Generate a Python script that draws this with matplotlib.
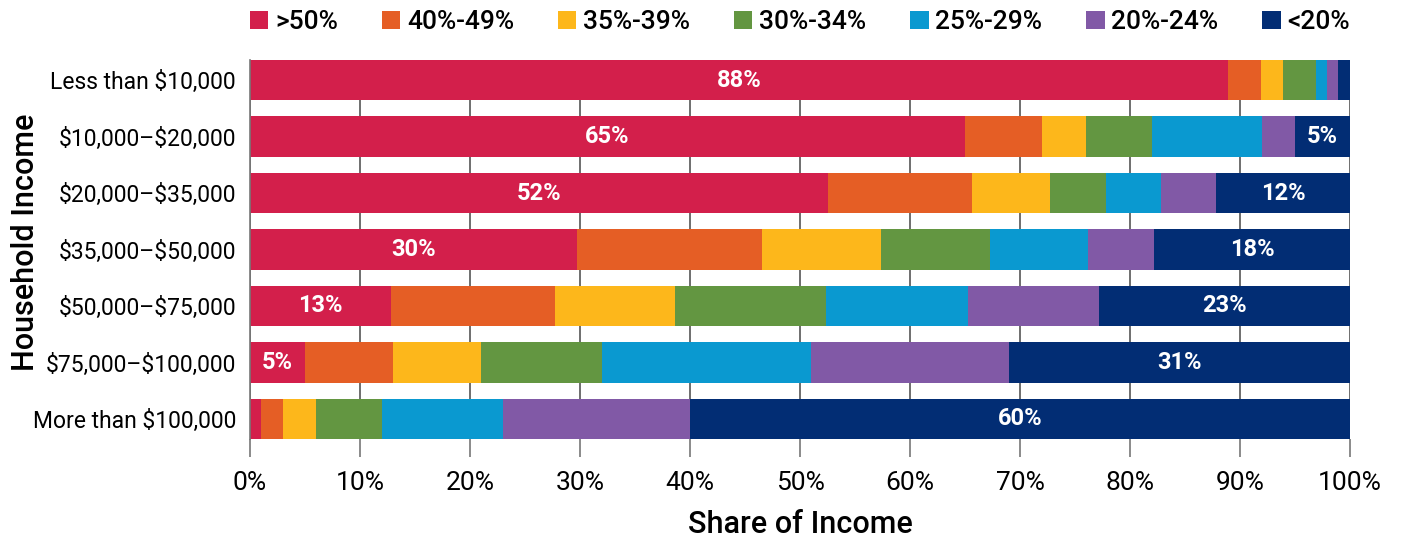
import matplotlib.pyplot as plt
import numpy as np

# household income brackets, top to bottom
incomes = [
    "Less than $10,000",
    "$10,000\u2013$20,000",
    "$20,000\u2013$35,000",
    "$35,000\u2013$50,000",
    "$50,000\u2013$75,000",
    "$75,000\u2013$100,000",
    "More than $100,000",
]

# share of income spent (legend categories)
groups = [">50%", "40%-49%", "35%-39%", "30%-34%", "25%-29%", "20%-24%", "<20%"]
colors = ["#D31F4B", "#E55E25", "#FDB71B", "#639641", "#0A99D0", "#8159A6", "#022D74"]

over50 = [88.9, 65.0, 52.5, 29.7, 12.8, 5.0, 1.0]
p40_49 = [3.0, 7.0, 13.1, 16.8, 14.9, 8.0, 2.0]
p35_39 = [2.0, 4.0, 7.1, 10.9, 10.9, 8.0, 3.0]
p30_34 = [3.0, 6.0, 5.1, 9.9, 13.8, 11.0, 6.0]
p25_29 = [1.0, 10.0, 5.0, 8.9, 12.9, 19.0, 11.0]
p20_24 = [1.0, 3.0, 5.0, 6.0, 11.9, 18.0, 17.0]
under20 = [1.1, 5.0, 12.2, 17.8, 22.8, 31.0, 60.0]

# labels printed on the first and last segment
over50_labels = ["88%", "65%", "52%", "30%", "13%", "5%", ""]
under20_labels = ["", "5%", "12%", "18%", "23%", "31%", "60%"]

plt.rcParams["font.family"] = ["Roboto", "DejaVu Sans"]
plt.rcParams["text.parse_math"] = False

series = [over50, p40_49, p35_39, p30_34, p25_29, p20_24, under20]

fig = plt.figure(figsize=(14.05, 5.42), dpi=100)
ax = fig.add_axes([250 / 1405, 1 - 439 / 542, 1100 / 1405, 379 / 542])

y = np.arange(len(incomes))
left = np.zeros(len(incomes))
containers = []
for vals, name, col in zip(series, groups, colors):
    c = ax.barh(y, vals, left=left, height=0.71, color=col, label=name, zorder=2)
    containers.append(c)
    left += np.array(vals)

ax.bar_label(containers[0], labels=over50_labels, label_type="center",
             color="white", fontsize=17, fontweight="bold")
ax.bar_label(containers[-1], labels=under20_labels, label_type="center",
             color="white", fontsize=17, fontweight="bold")

ax.set_xlim(0, 100)
ax.set_ylim(len(incomes) - 1 + 0.355, -0.355)
ax.set_yticks(y)
ax.set_yticklabels(incomes, fontsize=16.5)
ax.set_xticks(np.arange(0, 101, 10))
ax.set_xticklabels([f"{v}%" for v in range(0, 101, 10)], fontsize=19)
ax.tick_params(axis="y", length=0, pad=10)
ax.tick_params(axis="x", length=13, width=1.2, color="#777777", pad=10)
ax.grid(axis="x", color="#555555", linewidth=1.2, zorder=0)
for side in ["top", "bottom", "right"]:
    ax.spines[side].set_visible(False)
ax.spines["left"].set_color("#777777")
ax.spines["left"].set_linewidth(1.2)

ax.set_xlabel("Share of Income", fontsize=22, fontweight="medium")
ax.xaxis.set_label_coords(0.5, (439 - 510) / 379)
ax.set_ylabel("Household Income", fontsize=22, fontweight="medium")
ax.yaxis.set_label_coords((40 - 250) / 1100, 0.52)

ax.legend(loc="center", bbox_to_anchor=(0, 1.0, 1, 76 / 379), mode="expand",
          ncol=7, frameon=False, handlelength=0.7, handleheight=0.7,
          handletextpad=0.25, borderaxespad=0, borderpad=0, columnspacing=1.5,
          prop={"size": 19, "weight": "medium"})

fig.savefig("out.png", dpi=100)
